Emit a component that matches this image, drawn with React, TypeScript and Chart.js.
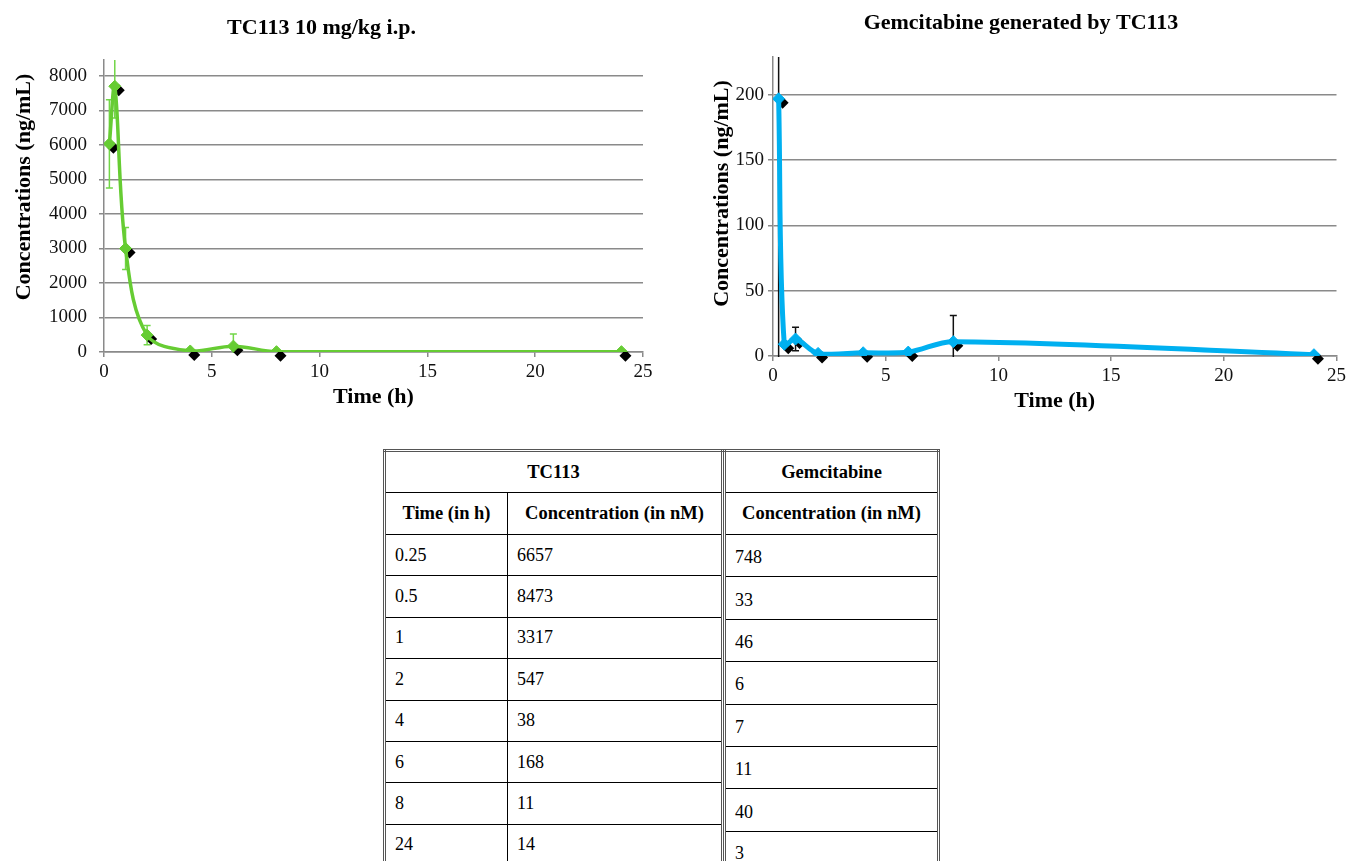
import React, { useEffect, useRef } from "react";
import { Chart, registerables } from "chart.js";

Chart.register(...registerables);

const SERIF = "'Liberation Serif', 'Times New Roman', serif";

// ---- data ----
const TIMES = [0.25, 0.5, 1, 2, 4, 6, 8, 24];
const TC113_NGML = [6030, 7700, 3000, 490, 30, 170, 10, 10];
const TC113_ERR = [1275, 920, 610, 280, 0, 350, 0, 0];
const GEM_NGML = [197, 9, 13, 2, 2.5, 3, 11, 1];
const GEM_ERR = [240, 0, 9, 0, 0, 0, 20, 0];

const X_TICKS = [0, 5, 10, 15, 20, 25];
const TC113_Y_TICKS = [0, 1000, 2000, 3000, 4000, 5000, 6000, 7000, 8000];
const GEM_Y_TICKS = [0, 50, 100, 150, 200];

const TABLE_TIMES = ["0.25", "0.5", "1", "2", "4", "6", "8", "24"];
const TABLE_TC113_NM = ["6657", "8473", "3317", "547", "38", "168", "11", "14"];
const TABLE_GEM_NM = ["748", "33", "46", "6", "7", "11", "40", "3"];

const GREEN = "#66cc33";
const BLUE = "#00b0f0";
const GRID = "#8a8a8a";

function drawDiamond(ctx: CanvasRenderingContext2D, x: number, y: number, r: number) {
  ctx.beginPath();
  ctx.moveTo(x, y - r);
  ctx.lineTo(x + r, y);
  ctx.lineTo(x, y + r);
  ctx.lineTo(x - r, y);
  ctx.closePath();
  ctx.fill();
}

function makeDecorPlugin(errors: number[], errColor: string, errWidth: number, cap: number, r: number) {
  return {
    id: "decor",
    beforeDatasetsDraw(chart: any) {
      const ctx = chart.ctx as CanvasRenderingContext2D;
      const meta = chart.getDatasetMeta(0);
      const ds = chart.data.datasets[0];
      const ys = chart.scales.y;
      const a = chart.chartArea;
      ctx.save();
      ctx.beginPath();
      ctx.rect(a.left - 10, a.top, a.right - a.left + 20, a.bottom - a.top + 1);
      ctx.clip();
      ctx.strokeStyle = errColor;
      ctx.lineWidth = errWidth;
      meta.data.forEach((pt: any, i: number) => {
        const e = errors[i];
        if (!e) return;
        const v = ds.data[i].y;
        const yt = ys.getPixelForValue(v + e);
        const yb = ys.getPixelForValue(v - e);
        ctx.beginPath();
        ctx.moveTo(pt.x, yt);
        ctx.lineTo(pt.x, yb);
        ctx.moveTo(pt.x - cap, yt);
        ctx.lineTo(pt.x + cap, yt);
        ctx.moveTo(pt.x - cap, yb);
        ctx.lineTo(pt.x + cap, yb);
        ctx.stroke();
      });
      ctx.restore();
      ctx.save();
      ctx.fillStyle = "#000";
      meta.data.forEach((pt: any) => drawDiamond(ctx, pt.x + 4, pt.y + 4, r));
      ctx.restore();
    },
  };
}

function makeYTitlePlugin(text: string, x: number, dy: number) {
  return {
    id: "ytitle",
    afterDraw(chart: any) {
      const ctx = chart.ctx as CanvasRenderingContext2D;
      const a = chart.chartArea;
      ctx.save();
      ctx.translate(x, (a.top + a.bottom) / 2 + dy);
      ctx.rotate(-Math.PI / 2);
      ctx.font = `bold 22px ${SERIF}`;
      ctx.textAlign = "center";
      ctx.textBaseline = "middle";
      ctx.fillStyle = "#000";
      ctx.fillText(text, 0, 0);
      ctx.restore();
    },
  };
}

type Spec = {
  title: string;
  values: number[];
  errors: number[];
  color: string;
  lineWidth: number;
  errColor: string;
  yMax: number;
  yTicks: number[];
  yWidth: number;
  padRight: number;
  padBottom: number;
  titlePadTop: number;
  titlePadBottom: number;
  yTitleX: number;
  yTitleDy: number;
  tickPad: number;
};

function buildConfig(s: Spec): any {
  return {
    type: "line",
    data: {
      datasets: [
        {
          data: TIMES.map((t, i) => ({ x: t, y: s.values[i] })),
          borderColor: s.color,
          backgroundColor: s.color,
          borderWidth: s.lineWidth,
          pointStyle: "rectRot",
          pointRadius: 6,
          pointBackgroundColor: s.color,
          pointBorderColor: s.color,
          pointBorderWidth: 1,
          tension: 0.35,
          fill: false,
        },
      ],
    },
    options: {
      responsive: false,
      animation: false,
      events: [],
      layout: { padding: { left: 0, right: s.padRight, top: 0, bottom: s.padBottom } },
      plugins: {
        legend: { display: false },
        tooltip: { enabled: false },
        title: {
          display: true,
          text: s.title,
          color: "#000",
          font: { family: SERIF, size: 22, weight: "bold" },
          padding: { top: s.titlePadTop, bottom: s.titlePadBottom },
        },
      },
      scales: {
        x: {
          type: "linear",
          min: 0,
          max: 25,
          afterBuildTicks: (sc: any) => {
            sc.ticks = X_TICKS.map((v) => ({ value: v }));
          },
          afterFit: (sc: any) => {
            sc.height = 59;
          },
          ticks: {
            color: "#111",
            font: { family: SERIF, size: 19 },
            padding: 4,
            maxRotation: 0,
            callback: (v: any) => String(v),
          },
          grid: { drawOnChartArea: false, drawTicks: true, tickLength: 5, color: GRID, lineWidth: 1.5 },
          border: { display: true, color: GRID, width: 1.5 },
          title: {
            display: true,
            text: "Time (h)",
            color: "#000",
            font: { family: SERIF, size: 22, weight: "bold" },
            padding: { top: 0, bottom: 0 },
          },
        },
        y: {
          type: "linear",
          min: 0,
          max: s.yMax,
          afterBuildTicks: (sc: any) => {
            sc.ticks = s.yTicks.map((v) => ({ value: v }));
          },
          afterFit: (sc: any) => {
            sc.width = s.yWidth;
          },
          ticks: {
            color: "#111",
            font: { family: SERIF, size: 19 },
            padding: s.tickPad,
            callback: (v: any) => String(v),
          },
          grid: { color: GRID, lineWidth: 1.5, tickLength: 5 },
          border: { display: true, color: GRID, width: 1.5 },
          title: { display: false },
        },
      },
    },
    plugins: [
      makeDecorPlugin(s.errors, s.errColor, 1.5, 3.5, 6),
      makeYTitlePlugin("Concentrations (ng/mL)", s.yTitleX, s.yTitleDy),
    ],
  };
}

function ChartCanvas(props: { spec: Spec; left: number; top: number; width: number; height: number }) {
  const ref = useRef<HTMLCanvasElement | null>(null);
  useEffect(() => {
    if (!ref.current) return;
    const chart = new Chart(ref.current, buildConfig(props.spec));
    return () => chart.destroy();
  }, []);
  return (
    <canvas
      ref={ref}
      width={props.width}
      height={props.height}
      style={{ position: "absolute", left: props.left, top: props.top, width: props.width, height: props.height }}
    />
  );
}

const LEFT_SPEC: Spec = {
  title: "TC113 10 mg/kg i.p.",
  values: TC113_NGML,
  errors: TC113_ERR,
  color: GREEN,
  lineWidth: 3.5,
  errColor: "#72d648",
  yMax: 8460,
  yTicks: TC113_Y_TICKS,
  yWidth: 104,
  padRight: 97,
  padBottom: 9,
  titlePadTop: 14.8,
  titlePadBottom: 18.8,
  yTitleX: 24.5,
  yTitleDy: -19,
  tickPad: 12,
};

const RIGHT_SPEC: Spec = {
  title: "Gemcitabine generated by TC113",
  values: GEM_NGML,
  errors: GEM_ERR,
  color: BLUE,
  lineWidth: 5,
  errColor: "#111",
  yMax: 229,
  yTicks: GEM_Y_TICKS,
  yWidth: 73,
  padRight: 8,
  padBottom: 5,
  titlePadTop: 9.8,
  titlePadBottom: 20.8,
  yTitleX: 22,
  yTitleDy: -13,
  tickPad: 4,
};

const cell: React.CSSProperties = {
  border: "1.5px solid #000",
  padding: "0 9px",
  fontFamily: SERIF,
  fontSize: 18,
  color: "#000",
  textAlign: "left",
  verticalAlign: "middle",
};
const head: React.CSSProperties = { ...cell, fontWeight: "bold", textAlign: "center", fontSize: 18.5, padding: "0 4px" };
const tableStyle: React.CSSProperties = {
  position: "absolute",
  top: 449,
  borderCollapse: "collapse",
  border: "3px double #555",
  tableLayout: "fixed",
};

function Tables() {
  return (
    <>
      <table style={{ ...tableStyle, left: 383, width: 338 }}>
        <colgroup>
          <col style={{ width: 123 }} />
          <col style={{ width: 215 }} />
        </colgroup>
        <tbody>
          <tr style={{ height: 42 }}>
            <td style={head} colSpan={2}>TC113</td>
          </tr>
          <tr style={{ height: 42 }}>
            <td style={head}>Time (in h)</td>
            <td style={head}>Concentration (in nM)</td>
          </tr>
          {TABLE_TIMES.map((t, i) => (
            <tr key={t} style={{ height: 41.4 }}>
              <td style={cell}>{t}</td>
              <td style={cell}>{TABLE_TC113_NM[i]}</td>
            </tr>
          ))}
        </tbody>
      </table>
      <table style={{ ...tableStyle, left: 723, width: 217 }}>
        <tbody>
          <tr style={{ height: 42 }}>
            <td style={head}>Gemcitabine</td>
          </tr>
          <tr style={{ height: 42 }}>
            <td style={head}>Concentration (in nM)</td>
          </tr>
          {TABLE_GEM_NM.map((v, i) => (
            <tr key={i} style={{ height: 42.4 }}>
              <td style={{ ...cell, paddingTop: 4 }}>{v}</td>
            </tr>
          ))}
        </tbody>
      </table>
    </>
  );
}

export default function App() {
  return (
    <div
      style={{
        position: "fixed",
        left: 0,
        top: 0,
        width: 1352,
        height: 861,
        overflow: "hidden",
        background: "#fff",
      }}
    >
      <ChartCanvas spec={LEFT_SPEC} left={0} top={0} width={740} height={420} />
      <ChartCanvas spec={RIGHT_SPEC} left={700} top={0} width={650} height={420} />
      <Tables />
    </div>
  );
}
